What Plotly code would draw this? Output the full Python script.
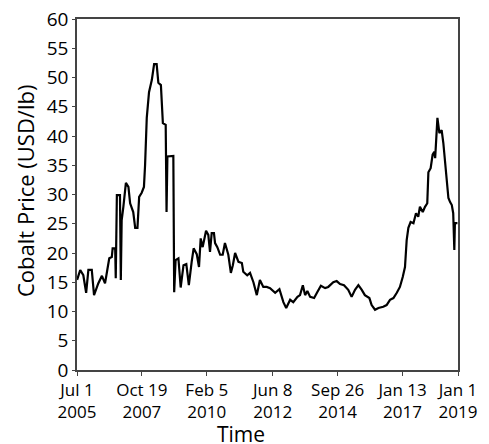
import plotly.graph_objects as go
import pandas as pd

# Decimal-year time stamps
time_years = [
    2005.50, 2005.61, 2005.72, 2005.82, 2005.90, 2006.02, 2006.10, 2006.25, 2006.38, 2006.49,
    2006.57, 2006.64, 2006.73, 2006.76, 2006.85, 2006.87, 2006.91, 2007.02, 2007.05, 2007.08,
    2007.14, 2007.23, 2007.32, 2007.38, 2007.49, 2007.56, 2007.64, 2007.70, 2007.79, 2007.87,
    2007.91, 2007.97, 2008.05, 2008.15, 2008.23, 2008.32, 2008.38, 2008.47, 2008.54, 2008.64,
    2008.67, 2008.70, 2008.91, 2008.94, 2008.99, 2009.09, 2009.17, 2009.27, 2009.37, 2009.46,
    2009.56, 2009.63, 2009.74, 2009.82, 2009.88, 2009.95, 2010.07, 2010.15, 2010.21, 2010.27,
    2010.35, 2010.39, 2010.47, 2010.57, 2010.66, 2010.74, 2010.86, 2010.95, 2011.02, 2011.10,
    2011.22, 2011.34, 2011.39, 2011.53, 2011.63, 2011.75, 2011.87, 2011.98, 2012.10, 2012.22,
    2012.34, 2012.52, 2012.67, 2012.81, 2012.91, 2013.05, 2013.16, 2013.31, 2013.40, 2013.50,
    2013.58, 2013.66, 2013.76, 2013.90, 2014.01, 2014.14, 2014.29, 2014.40, 2014.58, 2014.70,
    2014.82, 2014.96, 2015.11, 2015.23, 2015.35, 2015.47, 2015.59, 2015.70, 2015.86, 2015.94,
    2016.06, 2016.18, 2016.35, 2016.47, 2016.59, 2016.71, 2016.83, 2016.94, 2017.04, 2017.12,
    2017.18, 2017.24, 2017.32, 2017.42, 2017.51, 2017.59, 2017.65, 2017.75, 2017.83, 2017.91,
    2017.95, 2018.03, 2018.10, 2018.16, 2018.19, 2018.22, 2018.27, 2018.34, 2018.42, 2018.48,
    2018.54, 2018.60, 2018.66, 2018.72, 2018.78, 2018.83, 2018.87, 2018.89, 2018.98,
]

# Cobalt price (USD/lb)
price = [
    15.4, 17.1, 16.2, 13.2, 17.1, 17.1, 12.8, 14.8, 16.1, 14.8,
    17.1, 19.1, 19.3, 20.8, 20.8, 15.7, 29.9, 29.9, 15.4, 25.6,
    27.9, 32.0, 31.3, 28.5, 27.0, 24.3, 24.3, 29.6, 30.3, 31.3,
    35.0, 43.1, 47.5, 49.6, 52.3, 52.3, 49.1, 48.7, 42.2, 41.9,
    27.0, 36.5, 36.6, 13.3, 18.8, 19.1, 14.1, 17.9, 18.1, 14.5,
    18.5, 20.8, 19.8, 17.6, 22.5, 21.0, 23.8, 23.1, 20.2, 23.4,
    23.4, 21.7, 21.0, 19.7, 19.7, 21.7, 19.7, 16.6, 17.9, 20.0,
    18.5, 18.3, 16.8, 16.2, 16.6, 15.0, 12.8, 15.4, 14.2, 14.2,
    14.0, 13.2, 13.8, 11.6, 10.6, 12.0, 11.6, 12.5, 12.8, 14.5,
    12.8, 13.5, 12.5, 12.3, 13.3, 14.4, 14.0, 14.2, 15.0, 15.2,
    14.7, 14.5, 13.7, 12.5, 13.7, 14.5, 13.7, 12.8, 12.3, 11.1,
    10.3, 10.6, 10.8, 11.1, 12.0, 12.3, 13.2, 14.2, 15.9, 17.6,
    22.2, 24.3, 25.3, 25.1, 26.8, 26.2, 27.9, 27.0, 27.9, 28.5,
    33.8, 34.5, 36.8, 37.3, 36.2, 38.8, 43.1, 40.5, 41.0, 38.8,
    35.4, 32.1, 29.4, 28.7, 28.2, 26.8, 20.5, 25.1, 25.1,
]

tick_dates = ["2005-07-01", "2007-10-19", "2010-02-05", "2012-06-08",
              "2014-09-26", "2017-01-13", "2019-01-01"]
tick_labels = ["Jul 1<br>2005", "Oct 19<br>2007", "Feb 5<br>2010", "Jun 8<br>2012",
               "Sep 26<br>2014", "Jan 13<br>2017", "Jan 1<br>2019"]


def to_date(y):
    yr = int(y)
    start = pd.Timestamp(yr, 1, 1)
    days = (pd.Timestamp(yr + 1, 1, 1) - start).days
    return start + pd.Timedelta(days=(y - yr) * days)


dates = [to_date(y) for y in time_years]

fig = go.Figure()
fig.add_trace(go.Scatter(x=dates, y=price, mode="lines",
                         line=dict(color="black", width=2.2), showlegend=False))

font_family = "Open Sans, Lato, sans-serif"
# the page body adds an 8px margin, so the figure is sized/offset to compensate
fig.update_layout(
    width=481, height=436,
    margin=dict(l=69, r=31, t=11, b=74),
    paper_bgcolor="white", plot_bgcolor="white",
    font=dict(family=font_family, size=18, color="black"),
)
fig.update_xaxes(
    type="date", automargin=False, ticklabeloverflow="allow",
    range=["2005-07-01", "2019-01-01"],
    tickvals=tick_dates, ticktext=tick_labels,
    ticks="outside", ticklen=4, tickcolor="#444",
    showline=True, linecolor="#444", linewidth=1.5, mirror=True,
    showgrid=False, zeroline=False,
    tickfont=dict(size=17),
)
fig.update_yaxes(
    automargin=False, ticklabeloverflow="allow",
    range=[0, 60], dtick=5, tick0=0,
    ticks="outside", ticklen=3, tickcolor="#444",
    showline=True, linecolor="#444", linewidth=1.5, mirror=True,
    showgrid=False, zeroline=False,
    tickfont=dict(size=19),
)
fig.add_annotation(text="Time", xref="paper", yref="paper", x=0.43, y=-0.182,
                   xanchor="center", yanchor="middle", showarrow=False,
                   font=dict(size=21))
fig.add_annotation(text="Cobalt Price (USD/lb)", xref="paper", yref="paper",
                   x=-0.1365, y=0.51, xanchor="center", yanchor="middle",
                   textangle=-90, showarrow=False, font=dict(size=22))

fig.write_html("out.html")
